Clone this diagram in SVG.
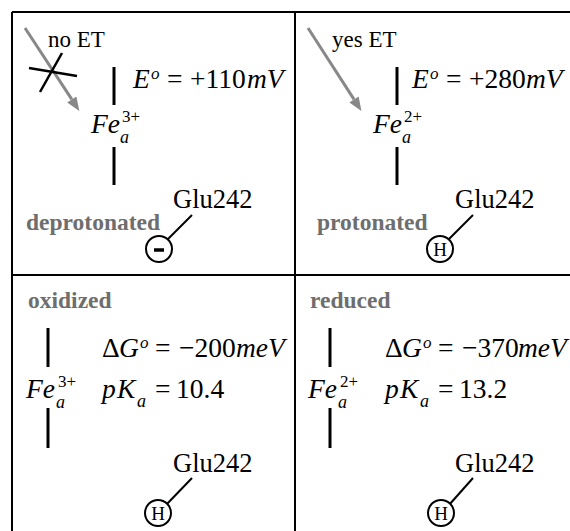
<svg xmlns="http://www.w3.org/2000/svg" width="570" height="531" viewBox="0 0 570 531" font-family="'Liberation Serif', 'Times New Roman', serif">
<style>
text{font-family:"Liberation Serif","Times New Roman",serif;fill:#000}
.i{font-style:italic}
.m{font-size:27.5px}
.sup{font-size:17px;font-style:italic}
.ion{font-size:17px}
.sub{font-size:18px;font-style:italic}
.glu{font-size:26.5px}
.et-t{font-size:23px}
.lab{font-weight:bold;fill:#6e6e6e;font-size:23.5px}
.h{font-size:19px;text-anchor:middle}
.bar{stroke:#000;stroke-width:3;fill:none}
.frame{stroke:#000;stroke-width:2;fill:none}
.et{stroke:#888;stroke-width:3;fill:none}
.circ{stroke:#000;stroke-width:2;fill:#fff}
.lk{stroke:#000;stroke-width:2}
</style>
<defs>
<marker id="ah" viewBox="0 0 10 8" refX="0" refY="4" markerWidth="15" markerHeight="11" markerUnits="userSpaceOnUse" orient="auto">
<path d="M0,0 L10,4 L0,8 z" fill="#888"/>
</marker>
</defs>
<g id="frame">
<line class="frame" x1="12" y1="12" x2="570" y2="12"/>
<line class="frame" x1="12" y1="12" x2="12" y2="531"/>
<line class="frame" x1="295" y1="12" x2="295" y2="531"/>
<line class="frame" x1="12" y1="275" x2="570" y2="275"/>
</g>
<g id="connectors">
<line class="et" x1="25" y1="28" x2="71.8" y2="99.4" marker-end="url(#ah)"/>
<line class="et" x1="308" y1="28" x2="354" y2="99.4" marker-end="url(#ah)"/>
<line stroke="#000" stroke-width="2.5" x1="29" y1="68" x2="77" y2="76"/>
<line stroke="#000" stroke-width="2.5" x1="62" y1="53" x2="40" y2="92"/>
<line class="lk" x1="192" y1="215" x2="166" y2="241"/>
<line class="lk" x1="473" y1="215" x2="447" y2="241"/>
<line class="lk" x1="192" y1="478" x2="166" y2="505"/>
<line class="lk" x1="473" y1="478" x2="449" y2="505"/>
</g>
<g id="panel-tl">
<text class="et-t" x="48" y="47">no ET</text>
<line class="bar" x1="114" y1="67" x2="114" y2="105"/>
<line class="bar" x1="114" y1="147" x2="114" y2="185"/>
<text class="m i" x="91" y="133">Fe</text>
<text class="ion" x="122" y="122">3+</text>
<text class="sub" x="120" y="143">a</text>
<text class="m"><tspan class="i" x="133" y="88">E</tspan><tspan class="sup" x="151" y="79">o</tspan><tspan x="167" y="88">=</tspan><tspan x="190" y="88">+110</tspan><tspan class="i" x="247" y="88">mV</tspan></text>
<text class="lab" x="26" y="230">deprotonated</text>
<text class="glu" x="173" y="208">Glu242</text>
<circle class="circ" cx="159" cy="249" r="13"/>
<line stroke="#000" stroke-width="3.5" x1="154" y1="250" x2="164" y2="250"/>
</g>
<g id="panel-tr">
<text class="et-t" x="332" y="47">yes ET</text>
<line class="bar" x1="397" y1="67" x2="397" y2="105"/>
<line class="bar" x1="397" y1="147" x2="397" y2="185"/>
<text class="m i" x="373" y="133">Fe</text>
<text class="ion" x="404" y="122">2+</text>
<text class="sub" x="402" y="143">a</text>
<text class="m"><tspan class="i" x="412" y="88">E</tspan><tspan class="sup" x="430" y="79">o</tspan><tspan x="446" y="88">=</tspan><tspan x="469" y="88">+280</tspan><tspan class="i" x="526" y="88">mV</tspan></text>
<text class="lab" x="317" y="230">protonated</text>
<text class="glu" x="455" y="208">Glu242</text>
<circle class="circ" cx="440" cy="249" r="13"/>
<text class="h" x="440" y="256">H</text>
</g>
<g id="panel-bl">
<text class="lab" x="28" y="308">oxidized</text>
<line class="bar" x1="48" y1="328" x2="48" y2="367"/>
<line class="bar" x1="48" y1="408" x2="48" y2="448"/>
<text class="m i" x="26" y="398">Fe</text>
<text class="ion" x="58" y="387">3+</text>
<text class="sub" x="56" y="408">a</text>
<text class="m"><tspan x="102" y="357">Δ</tspan><tspan class="i" x="119" y="357">G</tspan><tspan class="sup" x="140" y="348">o</tspan><tspan x="155" y="357">=</tspan><tspan x="179" y="357">−200</tspan><tspan class="i" x="236" y="357">meV</tspan></text>
<text class="m"><tspan class="i" x="102" y="398">p</tspan><tspan class="i" x="117" y="398">K</tspan><tspan class="sub" x="137" y="407">a</tspan><tspan x="155" y="398">=</tspan><tspan x="176" y="398">10.4</tspan></text>
<text class="glu" x="173" y="472">Glu242</text>
<circle class="circ" cx="158" cy="513" r="13"/>
<text class="h" x="158" y="520">H</text>
</g>
<g id="panel-br">
<text class="lab" x="310" y="308">reduced</text>
<line class="bar" x1="330" y1="328" x2="330" y2="367"/>
<line class="bar" x1="330" y1="408" x2="330" y2="448"/>
<text class="m i" x="308" y="398">Fe</text>
<text class="ion" x="340" y="387">2+</text>
<text class="sub" x="338" y="408">a</text>
<text class="m"><tspan x="385" y="357">Δ</tspan><tspan class="i" x="402" y="357">G</tspan><tspan class="sup" x="423" y="348">o</tspan><tspan x="438" y="357">=</tspan><tspan x="462" y="357">−370</tspan><tspan class="i" x="518" y="357">meV</tspan></text>
<text class="m"><tspan class="i" x="385" y="398">p</tspan><tspan class="i" x="400" y="398">K</tspan><tspan class="sub" x="420" y="407">a</tspan><tspan x="438" y="398">=</tspan><tspan x="459" y="398">13.2</tspan></text>
<text class="glu" x="455" y="472">Glu242</text>
<circle class="circ" cx="441" cy="513" r="13"/>
<text class="h" x="441" y="520">H</text>
</g>
</svg>
